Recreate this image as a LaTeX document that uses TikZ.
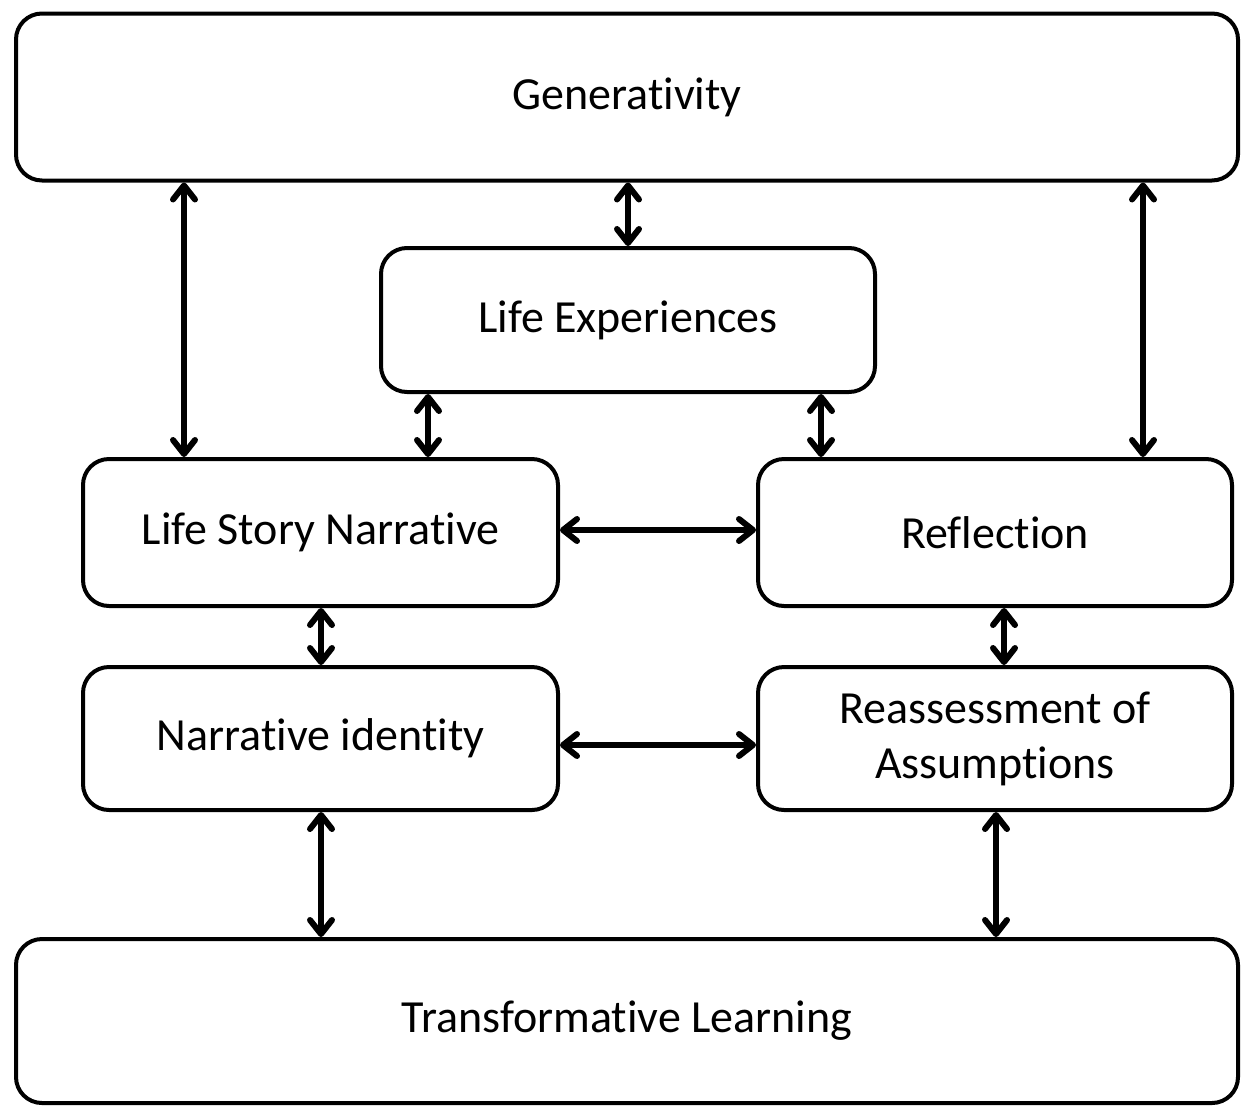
\documentclass[tikz,border=0pt]{standalone}
\usepackage{fontspec}
\setmainfont[Ligatures={NoCommon,NoRare,NoContextual}]{Carlito}
\usetikzlibrary{arrows.meta}
\begin{document}
\begin{tikzpicture}[x=1pt,y=-1pt,
  box/.style={draw=black,line width=4pt,rounded corners=26pt,fill=white,align=center,
    font=\fontsize{46}{55}\selectfont},
  link/.style={line width=6pt,{Straight Barb[length=14pt,width=22pt,line cap=round,round]}-{Straight Barb[length=14pt,width=22pt,line cap=round,round]}}]
\useasboundingbox (0,0) rectangle (1241,1106);
\node[box,minimum width=1222pt,minimum height=167pt] (gen) at (627,97) {Generativity};
\node[box,minimum width=494pt,minimum height=144pt] (exp) at (628,320) {Life Experiences};
\node[box,minimum width=475pt,minimum height=147pt] (lsn) at (320.5,532.5) {Life Story Narrative};
\node[box,minimum width=474pt,minimum height=147pt] (ref) at (995,532.5) {Reflection};
\node[box,minimum width=475pt,minimum height=143pt] (nid) at (320.5,738.5) {Narrative identity};
\node[box,minimum width=474pt,minimum height=143pt] (rea) at (995,738.5) {Reassessment of\\Assumptions};
\node[box,minimum width=1222pt,minimum height=164pt] (tl) at (627,1021) {Transformative Learning};
\draw[link] (gen.south -| 184,0) -- (lsn.north -| 184,0);
\draw[link] (gen.south -| 628,0) -- (exp.north -| 628,0);
\draw[link] (gen.south -| 1143,0) -- (ref.north -| 1143,0);
\draw[link] (exp.south -| 428,0) -- (lsn.north -| 428,0);
\draw[link] (exp.south -| 821,0) -- (ref.north -| 821,0);
\draw[link] (lsn.east |- 0,530) -- (ref.west |- 0,530);
\draw[link] (lsn.south -| 321,0) -- (nid.north -| 321,0);
\draw[link] (ref.south -| 1004,0) -- (rea.north -| 1004,0);
\draw[link] (nid.east |- 0,745) -- (rea.west |- 0,745);
\draw[link] (nid.south -| 321,0) -- (tl.north -| 321,0);
\draw[link] (rea.south -| 996,0) -- (tl.north -| 996,0);
\end{tikzpicture}
\end{document}
